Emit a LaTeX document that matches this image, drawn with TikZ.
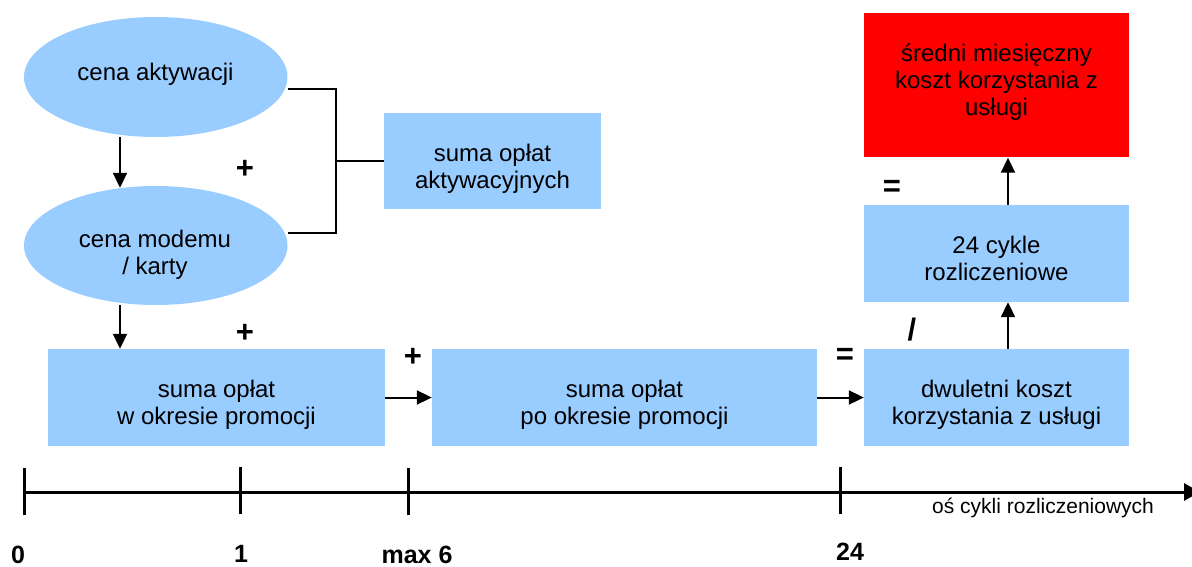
\documentclass[tikz,border=0pt]{standalone}
\usepackage{fontspec}
\setmainfont{Liberation Sans}
\usetikzlibrary{shapes.geometric,arrows.meta}
\definecolor{lblue}{RGB}{153,204,255}
\definecolor{rbox}{RGB}{255,0,0}
\begin{document}
\begin{tikzpicture}[x=1pt,y=-1pt,
  ellnode/.style={ellipse,fill=lblue,draw=none,inner sep=0pt,minimum width=263.5pt,minimum height=120pt},
  boxnode/.style={rectangle,fill=lblue,draw=none,inner sep=0pt},
  txt/.style={align=center,inner sep=0pt,font=\fontsize{24pt}{27pt}\selectfont},
  sign/.style={inner sep=0pt,font=\fontsize{31pt}{31pt}\selectfont\bfseries},
  num/.style={inner sep=0pt,anchor=base,font=\fontsize{25pt}{25pt}\selectfont\bfseries},
  conn/.style={line width=2pt,draw=black},
  arr/.style={line width=2pt,draw=black,-{Triangle[length=15pt,width=14pt]}},
  axisline/.style={line width=3pt,draw=black}
]
\useasboundingbox (0,0) rectangle (1192,567);

% shapes
\node[ellnode] (e1) at (155.75,77) {};
\node[ellnode,minimum height=119pt] (e2) at (155.75,245.5) {};
\node[boxnode,minimum width=217pt,minimum height=96pt] (b1) at (492.5,161) {};
\node[boxnode,minimum width=337pt,minimum height=97pt] (b3) at (216.5,397.5) {};
\node[boxnode,minimum width=385pt,minimum height=97pt] (b4) at (624.5,397.5) {};
\node[boxnode,minimum width=265pt,minimum height=97pt] (b5) at (996.5,397.5) {};
\node[boxnode,minimum width=265pt,minimum height=97pt] (b6) at (996.5,253.5) {};
\node[boxnode,fill=rbox,minimum width=265pt,minimum height=144.5pt] (rb) at (996.5,85.25) {};

% texts
\node[txt] (te1) at (155.5,74) {cena aktywacji};
\node[txt] (te2) at (155,255) {cena modemu\\/ karty};
\node[txt] (tb1) at (492.5,168.5) {suma opłat\\aktywacyjnych};
\node[txt] (tb3) at (216.5,405) {suma opłat\\w okresie promocji};
\node[txt] (tb4) at (624.5,405) {suma opłat\\po okresie promocji};
\node[txt] (tb5) at (996.5,405) {dwuletni koszt\\korzystania z usługi};
\node[txt] (tb6) at (996.5,258) {24 cykle\\rozliczeniowe};
\node[txt] (trb) at (996.5,82) {średni miesięczny\\koszt korzystania z\\usługi};

% signs
\node[sign] (p1) at (245,169) {+};
\node[sign] (p2) at (245,333) {+};
\node[sign] (p3) at (413,357) {+};
\node[sign] (q1) at (845,356) {=};
\node[sign] (q2) at (892,188.5) {=};
\node[sign] (s1) at (912,329.5) {/};

% connectors
\coordinate (br) at (336,161);
\draw[arr] ([xshift=-35.75pt]e1.south) -- ([xshift=-35.75pt,yshift=-2pt]e2.north);
\draw[arr] ([xshift=-35.75pt]e2.south) -- (b3.north -| {(120,0)});
\draw[conn] ([yshift=-12pt]e1.east) -| (br) |- ([yshift=12.5pt]e2.east);
\draw[conn] (br) -- (b1.west);
\draw[arr] (b3.east) -- (b4.west);
\draw[arr] (b4.east) -- (b5.west);
\draw[arr] ([xshift=11.5pt]b5.north) -- ([xshift=11.5pt]b6.south);
\draw[arr] ([xshift=11.5pt]b6.north) -- ([xshift=11.5pt]rb.south);

% axis
\coordinate (ax0) at (24,492);
\coordinate (axE) at (1200,492);
\coordinate (t0a) at (24,468);   \coordinate (t0b) at (24,515);
\coordinate (t1a) at (240,467);  \coordinate (t1b) at (240,514);
\coordinate (t2a) at (408,468);  \coordinate (t2b) at (408,515);
\coordinate (t3a) at (840,467);  \coordinate (t3b) at (840,514);
\draw[axisline,-{Triangle[length=16pt,width=17pt]}] (ax0) -- (axE);
\draw[axisline] (t0a) -- (t0b);
\draw[axisline] (t1a) -- (t1b);
\draw[axisline] (t2a) -- (t2b);
\draw[axisline] (t3a) -- (t3b);
\node[inner sep=0pt,anchor=base west,font=\fontsize{21pt}{21pt}\selectfont] (axl) at (932,513) {oś cykli rozliczeniowych};

% numbers
\node[num] (n0) at (18,563) {0};
\node[num] (n1) at (241,562) {1};
\node[num] (n6) at (417,563) {max 6};
\node[num] (n24) at (850,560) {24};
\end{tikzpicture}
\end{document}
